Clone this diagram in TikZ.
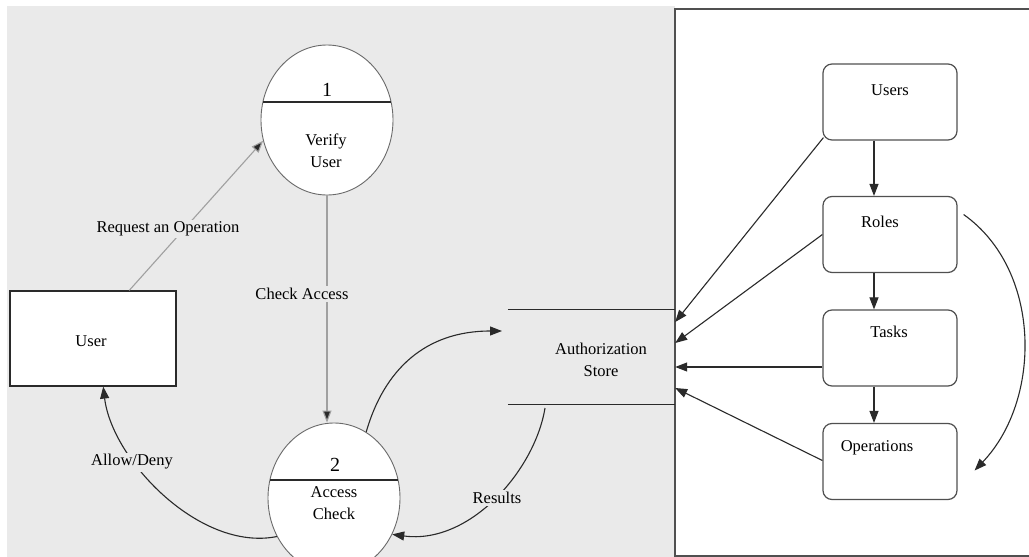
\documentclass[tikz,border=0pt]{standalone}
\usepackage{fontspec}
\setmainfont{Liberation Serif}
\usetikzlibrary{arrows.meta,shapes.geometric,calc}
\definecolor{bggray}{HTML}{EAEAEA}
\definecolor{linedark}{HTML}{2A2A2A}
\definecolor{linelight}{HTML}{A0A0A0}
\definecolor{borderc}{HTML}{505050}
\begin{document}
\begin{tikzpicture}[x=1pt,y=-1pt,
  txt/.style={font=\fontsize{16.5}{22}\selectfont, inner sep=1pt, align=center, text=black},
  num/.style={font=\fontsize{20}{22}\selectfont, inner sep=0pt},
  proc/.style={ellipse, draw=borderc!85, line width=0.9pt, fill=white, minimum width=132pt, minimum height=150pt, inner sep=0pt},
  extbox/.style={rectangle, draw=linedark, line width=1.2pt, fill=white, minimum width=166pt, minimum height=95pt, inner sep=0pt},
  rbox/.style={rectangle, rounded corners=9pt, draw=borderc, line width=1.2pt, fill=white, minimum width=134pt, minimum height=76pt, inner sep=0pt},
  storebox/.style={rectangle, minimum width=167pt, minimum height=94pt, inner sep=0pt},
  darrow/.style={draw=linedark, line width=1.1pt, -{Triangle[length=12pt,width=9pt]}},
  larrow/.style={draw=linelight, line width=1.1pt, -{Triangle[length=12pt,width=9pt,fill=linedark]}},
  divider/.style={draw=linedark, line width=1.5pt},
  lbl/.style={txt, fill=bggray, inner sep=2pt}
]
\useasboundingbox (0,0) rectangle (1029,557);
% backgrounds
\fill[white] (0,0) rectangle (1029,557);
\fill[bggray] (7,6) rectangle (675,557);
\draw[borderc, line width=1.4pt] (1029,9) -- (675,9) -- (675,556) -- (1029,556);

% process circles
\node[proc] (c1) at (327,120) {};
\draw[divider] (263,102) -- (391,102);
\node[num] (c1n) at (327,90) {1};
\node[txt] (c1t) at (326,151) {Verify\\User};

\node[proc] (c2) at (334,498) {};
\draw[divider] (270,480) -- (398,480);
\node[num] (c2n) at (335,465) {2};
\node[txt] (c2t) at (334,503) {Access\\Check};

% external entity
\node[extbox] (user) at (93,338.5) {};
\node[txt] (usert) at (91,341) {User};

% data store
\node[storebox] (store) at (591.5,357) {};
\draw[linedark, line width=1.3pt] (store.north west) -- (store.north east);
\draw[linedark, line width=1.3pt] (store.south west) -- (store.south east);
\node[txt] (storet) at (601,360) {Authorization\\Store};
\coordinate (storein) at (502,331);
\coordinate (storeout) at (545,408);

% right side boxes
\node[rbox] (users) at (890,102) {};
\node[txt] (userst) at (890,90) {Users};
\node[rbox] (roles) at (890,234.5) {};
\node[txt] (rolest) at (880,222) {Roles};
\node[rbox] (tasks) at (890,348) {};
\node[txt] (taskst) at (889,332) {Tasks};
\node[rbox] (ops) at (890,461.5) {};
\node[txt] (opst) at (877,448) {Operations};

% left flows
\draw[larrow] (user.53.6) -- (c1.198);
\node[lbl] (reqlbl) at (168,229) {Request an Operation};
\draw[larrow] (c1.south) -- (c1.south |- c2.north);
\node[lbl] (chklbl) at (302,294) {Check Access};

\draw[darrow] (c2.214) .. controls (200,552) and (112,460) .. (user.282);
\node[lbl] (adlbl) at (132,462) {Allow/Deny};

\draw[darrow] (c2.64) .. controls (384,370) and (425,331) .. (storein);
\draw[darrow] (storeout) .. controls (535,470) and (470,545) .. (c2.328);
\node[lbl] (reslbl) at (497,498) {Results};

% right flows
\draw[darrow] ($(users.south)+(-16,0)$) -- ($(roles.north)+(-16,0)$);
\draw[darrow] ($(roles.south)+(-16,0)$) -- ($(tasks.north)+(-16,0)$);
\draw[darrow] ($(tasks.south)+(-16,0)$) -- ($(ops.north)+(-16,0)$);

\draw[darrow] ($(users.south west)+(1,-3)$) -- ($(store.east)+(0,-35)$);
\draw[darrow] (roles.west) -- ($(store.east)+(0,-14)$);
\draw[darrow] ($(tasks.west)+(0,19)$) -- ($(store.east)+(0,10)$);
\draw[darrow] ($(ops.west)+(0,-1)$) -- ($(store.east)+(0,31)$);

\draw[darrow] ($(roles.east)+(6,-20)$) .. controls (1042,270) and (1042,400) .. ($(ops.east)+(17,9)$);
\end{tikzpicture}
\end{document}
